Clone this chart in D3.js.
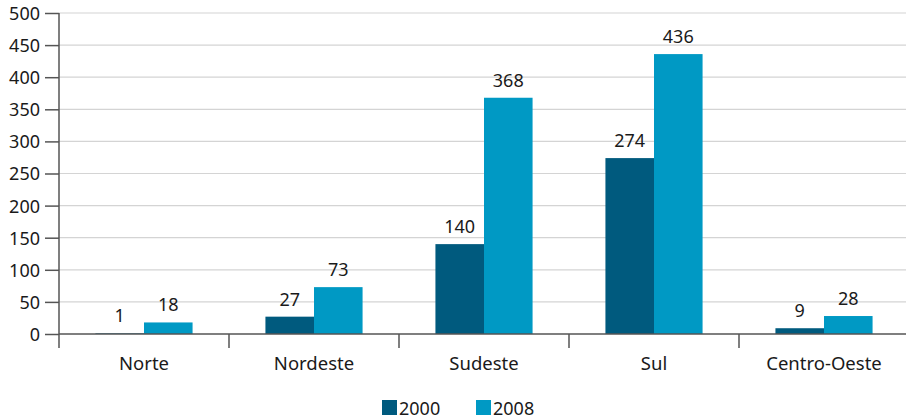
<!DOCTYPE html>
<html>
<head>
<meta charset="utf-8">
<script src="https://cdn.jsdelivr.net/npm/d3@7"></script>
<style>
  body { margin: 0; background: #fff; }
  svg text { font-family: "Noto Sans", sans-serif; fill: #1a1a1a; }
</style>
</head>
<body>
<svg id="main-svg" width="906" height="419"></svg>
<script>
const regions = ['Norte', 'Nordeste', 'Sudeste', 'Sul', 'Centro-Oeste'];
const years = ['2000', '2008'];
const values2000 = [1, 27, 140, 274, 9];
const values2008 = [18, 73, 368, 436, 28];
const yTicks = [0, 50, 100, 150, 200, 250, 300, 350, 400, 450, 500];
const colors = ['#005a7e', '#0099c4'];

const rows = regions.map((r, i) => ({ region: r, vals: [values2000[i], values2008[i]] }));

const svg = d3.select('#main-svg');
const margin = { left: 59, right: -3, top: 13, bottom: 85 };
const width = 906 - margin.left - margin.right;
const height = 419 - margin.top - margin.bottom;

const g = svg.append('g')
	.attr('transform', `translate(${margin.left},${margin.top})`);

const x = d3.scaleBand()
	.domain(regions)
	.range([0, width]);

const x1 = d3.scaleBand()
	.domain(years)
	.range([0, x.bandwidth()])
	.paddingOuter(0.75)
	.paddingInner(0);

const y = d3.scaleLinear()
	.domain([0, 500])
	.range([height, 0]);

// gridlines
g.append('g')
	.selectAll('line')
	.data(yTicks.filter(d => d > 0))
	.enter().append('line')
	.attr('x1', 0)
	.attr('x2', width)
	.attr('y1', d => y(d))
	.attr('y2', d => y(d))
	.attr('stroke', '#d4d4d4')
	.attr('stroke-width', 1.2);

// bars
const groups = g.append('g')
	.selectAll('g')
	.data(rows)
	.enter().append('g')
	.attr('transform', d => `translate(${x(d.region)},0)`);

groups.selectAll('rect')
	.data(d => d.vals.map((v, i) => ({ year: years[i], value: v, i: i })))
	.enter().append('rect')
	.attr('x', d => x1(d.year))
	.attr('width', x1.bandwidth())
	.attr('y', d => y(d.value))
	.attr('height', d => height - y(d.value))
	.attr('fill', d => colors[d.i]);

groups.selectAll('text')
	.data(d => d.vals.map((v, i) => ({ year: years[i], value: v })))
	.enter().append('text')
	.attr('x', d => x1(d.year) + x1.bandwidth() / 2)
	.attr('y', d => y(d.value) - 11)
	.attr('text-anchor', 'middle')
	.style('font-size', '18px')
	.text(d => d.value);

// y axis
const yAxis = g.append('g')
	.call(d3.axisLeft(y).tickValues(yTicks).tickSize(14).tickPadding(5));
yAxis.select('.domain').attr('stroke', '#555').attr('stroke-width', 1.5)
	.attr('d', `M0,${height}V0`);
yAxis.selectAll('.tick line').attr('stroke', '#555').attr('stroke-width', 1.5);
yAxis.selectAll('.tick text').style('font-size', '18px').attr('dy', '0.36em').attr('fill', '#1a1a1a');

// x axis
const xAxisG = g.append('g')
	.attr('transform', `translate(0,${height})`);
xAxisG.append('line')
	.attr('x1', 0).attr('x2', width)
	.attr('stroke', '#555').attr('stroke-width', 1.5);
xAxisG.selectAll('.cat-tick')
	.data(regions.concat(['end']))
	.enter().append('line')
	.attr('class', 'cat-tick')
	.attr('x1', (d, i) => i * x.step())
	.attr('x2', (d, i) => i * x.step())
	.attr('y1', 0).attr('y2', 14)
	.attr('stroke', '#555').attr('stroke-width', 1.5);
xAxisG.selectAll('.cat-label')
	.data(regions)
	.enter().append('text')
	.attr('x', d => x(d) + x.bandwidth() / 2)
	.attr('y', 36)
	.attr('text-anchor', 'middle')
	.style('font-size', '18.5px')
	.text(d => d);

// legend
const legend = svg.append('g').attr('transform', 'translate(382,400)');
const items = legend.selectAll('g')
	.data(years)
	.enter().append('g')
	.attr('transform', (d, i) => `translate(${i * 94},0)`);
items.append('rect')
	.attr('width', 15).attr('height', 15)
	.attr('fill', (d, i) => colors[i]);
items.append('text')
	.attr('x', 17).attr('y', 15)
	.style('font-size', '18px')
	.text(d => d);
</script>
</body>
</html>
